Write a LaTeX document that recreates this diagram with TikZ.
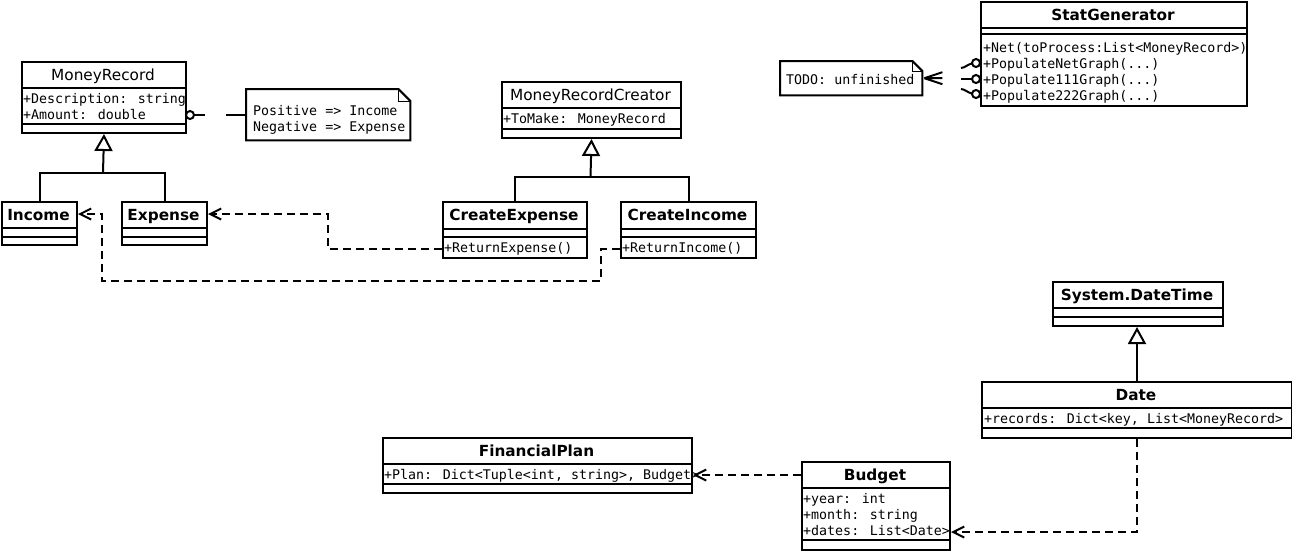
\documentclass[tikz,border=0pt]{standalone}
\usepackage{fontspec}
\setmainfont{DejaVu Sans}
\newfontfamily\monof{DejaVu Sans Mono}
\usetikzlibrary{arrows.meta}

\tikzset{
  box/.style={draw, line width=2pt, fill=white, inner sep=0pt, anchor=north west},
  notebox/.style={inner sep=0pt, anchor=north west},
  sep/.style={line width=2pt},
  title/.style={inner sep=0pt, font=\fontsize{15.3}{18}\selectfont, text height=11pt, text depth=0pt},
  btitle/.style={inner sep=0pt, font=\fontsize{15.3}{18}\selectfont\bfseries, text height=11pt, text depth=0pt},
  row/.style={inner sep=0pt, anchor=west, font=\monof\fontsize{13.3}{16}\selectfont, text height=10pt, text depth=0pt},
  conn/.style={line width=2pt},
  dep/.style={conn, dash pattern=on 8pt off 5pt, -{Straight Barb[length=11pt,width=11pt]}},
  gen/.style={conn, -{Triangle[fill=white,length=17pt,width=18pt]}},
  fold/.style={line width=1pt},
}

\begin{document}
\begin{tikzpicture}[x=1pt,y=-1pt]
\useasboundingbox (0,0) rectangle (1292,550);

% ---------- MoneyRecord ----------
\node[box, minimum width=164pt, minimum height=71pt] (mr) at (21,61) {};
\draw[sep] (21,88) -- (185,88) (21,124) -- (185,124);
\node[title] (mrt) at (103,74.5) {MoneyRecord};
\node[row] (mr1) at (23,98) {+Description: string};
\node[row] (mr2) at (23,114) {+Amount: double};

% note on the amount sign
\node[notebox, minimum width=164pt, minimum height=51pt] (n1) at (246,89) {};
\draw[conn, fill=white] (n1.north west) -- ([xshift=-12pt]n1.north east) -- ([yshift=-12pt]n1.north east) -- (n1.south east) -- (n1.south west) -- cycle;
\draw[fold] ([xshift=-12pt]n1.north east) -- ([xshift=-12pt,yshift=-12pt]n1.north east) -- ([yshift=-12pt]n1.north east);
\node[row] (n1a) at (253,110) {Positive => Income};
\node[row] (n1b) at (253,126) {Negative => Expense};

% ball on MoneyRecord and the note's link
\coordinate (ball) at (190,115);
\draw[conn] (ball) circle (4pt);
\draw[conn] ([xshift=4pt]ball) -- ++(11,0);
\draw[conn] (n1.west |- ball) -- ++(-20,0);

% ---------- Income / Expense ----------
\node[box, minimum width=75pt, minimum height=43pt] (inc) at (1,201) {};
\draw[sep] (1,228) -- (76,228) (1,237) -- (76,237);
\node[btitle] (inct) at (38.5,214.5) {Income};

\node[box, minimum width=85pt, minimum height=43pt] (exp) at (121,201) {};
\draw[sep] (121,228) -- (206,228) (121,237) -- (206,237);
\node[btitle] (expt) at (163.5,214.5) {Expense};

\coordinate (mrjoin) at (103,173);
\draw[conn] (inc.north) |- (mrjoin) -| (exp.north);
\draw[gen] (mrjoin) -- (mr.south);

% ---------- MoneyRecordCreator ----------
\node[box, minimum width=179pt, minimum height=56pt] (mrc) at (501,81) {};
\draw[sep] (501,108) -- (680,108) (501,129) -- (680,129);
\node[title] (mrct) at (590.5,94.5) {MoneyRecordCreator};
\node[row] (mrc1) at (503,118) {+ToMake: MoneyRecord};

\node[box, minimum width=144pt, minimum height=56pt] (ce) at (442,201) {};
\draw[sep] (442,229) -- (586,229) (442,237) -- (586,237);
\node[btitle] (cet) at (514,215) {CreateExpense};
\node[row] (ce1) at (444,247) {+ReturnExpense()};

\node[box, minimum width=135pt, minimum height=56pt] (ci) at (620,201) {};
\draw[sep] (620,229) -- (755,229) (620,237) -- (755,237);
\node[btitle] (cit) at (687.5,215) {CreateIncome};
\node[row] (ci1) at (622,247) {+ReturnIncome()};

\coordinate (mrcjoin) at (590.5,177);
\draw[conn] (ce.north) |- (mrcjoin) -| (ci.north);
\draw[gen] (mrcjoin) -- (mrc.south);

% creators depend on the records they return
\draw[dep] ([yshift=10pt]ce.south west) -- ++(-114,0) |- ([yshift=-13pt]exp.north east);
\draw[dep] ([yshift=10pt]ci.south west) -| (601,281) -| ([xshift=24pt,yshift=-13pt]inc.north east) -- ([yshift=-13pt]inc.north east);

% ---------- StatGenerator ----------
\node[box, minimum width=266pt, minimum height=104pt] (sg) at (980,1) {};
\draw[sep] (980,28) -- (1246,28) (980,34) -- (1246,34);
\node[btitle] (sgt) at (1113,14.5) {StatGenerator};
\node[row] (sg1) at (983,47) {+Net(toProcess:List<MoneyRecord>)};
\node[row] (sg2) at (983,63) {+PopulateNetGraph(...)};
\node[row] (sg3) at (983,79) {+Populate111Graph(...)};
\node[row] (sg4) at (983,95) {+Populate222Graph(...)};

% provided interfaces on the graph methods
\draw[conn] (976,63) circle (4pt) (976,79) circle (4pt) (976,94) circle (4pt);
\draw[conn] (961,68) to[out=5,in=190] (972,63.5);
\draw[conn] (961,79) -- (972,79);
\draw[conn] (961,89) to[out=-5,in=170] (972,93.5);

% TODO note
\node[notebox, minimum width=142pt, minimum height=34pt] (todo) at (780,61) {};
\draw[conn, fill=white] (todo.north west) -- ([xshift=-10pt]todo.north east) -- ([yshift=-10pt]todo.north east) -- (todo.south east) -- (todo.south west) -- cycle;
\draw[fold] ([xshift=-10pt]todo.north east) -- ([xshift=-10pt,yshift=-10pt]todo.north east) -- ([yshift=-10pt]todo.north east);
\node[row] (todot) at (786,79) {TODO: unfinished};
\draw[conn] ([xshift=2pt]todo.east) -- ++(18,-6) ([xshift=2pt]todo.east) -- ++(18,0) ([xshift=2pt]todo.east) -- ++(18,6);

% ---------- System.DateTime / Date ----------
\node[box, minimum width=170pt, minimum height=44pt] (sdt) at (1052,281) {};
\draw[sep] (1052,308) -- (1222,308) (1052,317) -- (1222,317);
\node[btitle] (sdtt) at (1137,294.5) {System.DateTime};

\node[box, minimum width=310pt, minimum height=56pt] (date) at (981,381) {};
\draw[sep] (981,408) -- (1291,408) (981,428) -- (1291,428);
\node[btitle] (datet) at (1136,394.5) {Date};
\node[row] (date1) at (984,418) {+records: Dict<key, List<MoneyRecord> >};

\draw[gen] (date.north) -- (date.north |- sdt.south);

% ---------- FinancialPlan / Budget ----------
\node[box, minimum width=309pt, minimum height=55pt] (fp) at (382,437) {};
\draw[sep] (382,464) -- (691,464) (382,484) -- (691,484);
\node[btitle] (fpt) at (536.5,450.5) {FinancialPlan};
\node[row] (fp1) at (384,474) {+Plan: Dict<Tuple<int, string>, Budget>};

\node[box, minimum width=148pt, minimum height=88pt] (bud) at (801,461) {};
\draw[sep] (801,488) -- (949,488) (801,540) -- (949,540);
\node[btitle] (budt) at (875,474.5) {Budget};
\node[row] (bud1) at (803,498) {+year: int};
\node[row] (bud2) at (803,514) {+month: string};
\node[row] (bud3) at (803,530) {+dates: List<Date>};

\coordinate (bfp) at ([yshift=-14pt]bud.north west);
\draw[dep] (bfp) -- (fp.east |- bfp);
\draw[dep] (date.south) |- ([yshift=19pt]bud.south east);

\end{tikzpicture}
\end{document}
